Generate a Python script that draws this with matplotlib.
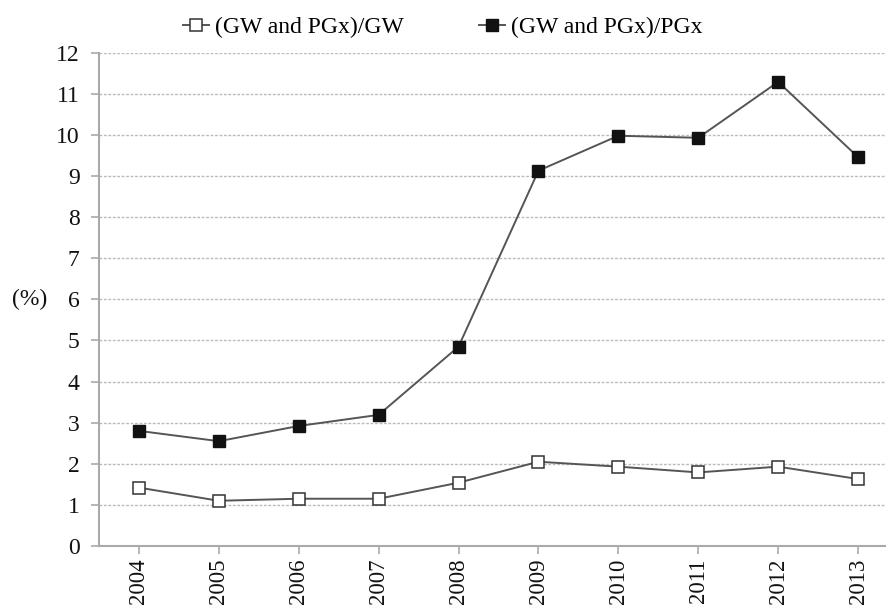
import matplotlib
matplotlib.use("Agg")
import matplotlib.pyplot as plt
from matplotlib.lines import Line2D

years = ["2004", "2005", "2006", "2007", "2008", "2009", "2010", "2011", "2012", "2013"]
gw_share = [1.42, 1.10, 1.15, 1.15, 1.54, 2.05, 1.93, 1.79, 1.93, 1.63]
pgx_share = [2.80, 2.55, 2.92, 3.19, 4.85, 9.13, 9.98, 9.93, 11.29, 9.46]
series_labels = ["(GW and PGx)/GW", "(GW and PGx)/PGx"]
y_ticks = list(range(0, 13))

plt.rcParams['font.family'] = ['Liberation Serif', 'DejaVu Serif']

fig = plt.figure(figsize=(8.87, 6.07), dpi=100)
ax = fig.add_axes([99/887, (607-546)/607, (898-99)/887, (546-52.7)/607])

x = list(range(len(years)))
line_col = '#555555'
ax.plot(x, gw_share, color=line_col, lw=1.4, marker='s', ms=8.5,
        mfc='white', mec='#333333', mew=1.1, zorder=3)
ax.plot(x, pgx_share, color=line_col, lw=1.4, marker='s', ms=8.5,
        mfc='#111111', mec='#111111', mew=1.0, zorder=3)

ax.set_xlim(-0.5, 9.5)
ax.set_ylim(0, 12)
ax.set_yticks(y_ticks)
ax.set_yticklabels([str(v) for v in y_ticks], fontsize=17)
ax.set_xticks(x)
ax.set_xticklabels(years, rotation=90, fontsize=16.5)

ax.yaxis.grid(True, color='#bbbbbb', linestyle=(0, (2, 1.2)), linewidth=1.0, zorder=0)
ax.set_axisbelow(True)
for s in ['top', 'right']:
    ax.spines[s].set_visible(False)
for s in ['left', 'bottom']:
    ax.spines[s].set_color('#aaaaaa')
    ax.spines[s].set_linewidth(1.5)
ax.tick_params(axis='both', colors='#aaaaaa', labelcolor='#111111', width=1.2, length=6)
ax.tick_params(axis='y', pad=8)
ax.tick_params(axis='x', pad=3)

fig.text(30/887, 1 - 299/607, "(%)", fontsize=17, ha='center', va='center', color='#111111')

handles = [
    Line2D([], [], color=line_col, lw=1.4, marker='s', ms=8.5, mfc='white', mec='#333333', mew=1.1),
    Line2D([], [], color=line_col, lw=1.4, marker='s', ms=8.5, mfc='#111111', mec='#111111'),
]
fig.legend(handles, series_labels, loc='center', bbox_to_anchor=(443/887, 1 - 27/607),
           ncol=2, frameon=False, fontsize=17, handlelength=1.1, handletextpad=0.25,
           columnspacing=3.2)

fig.savefig("out.png", dpi=100)
